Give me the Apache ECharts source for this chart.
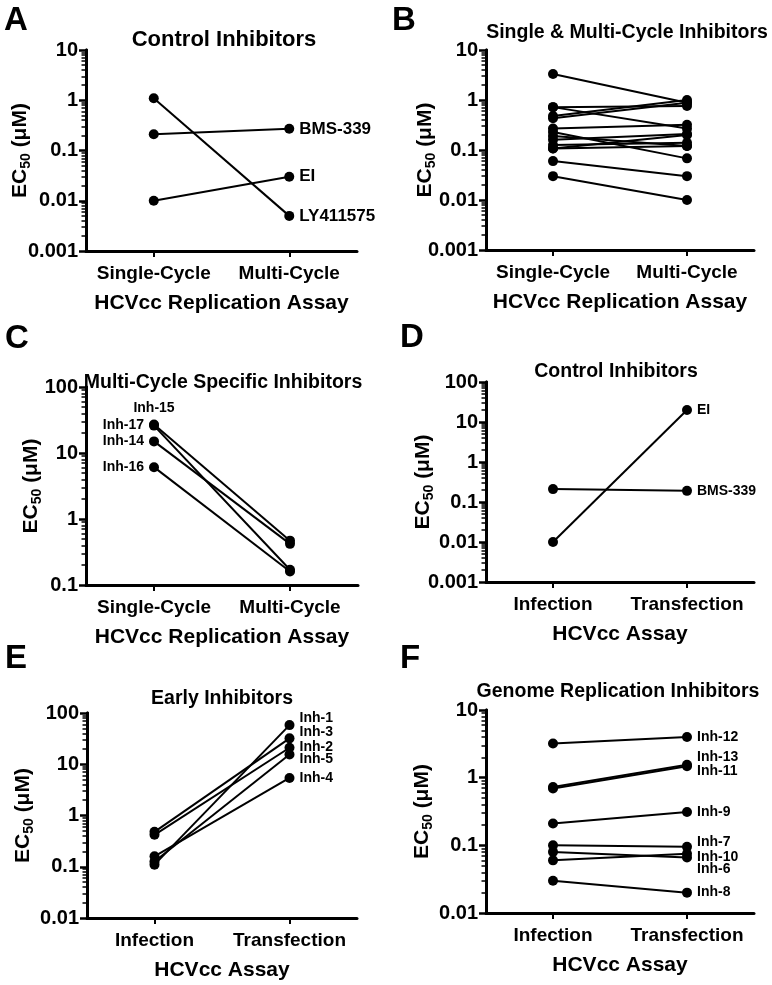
<!DOCTYPE html>
<html>
<head>
<meta charset="utf-8">
<script src="https://cdn.jsdelivr.net/npm/echarts@6/dist/echarts.min.js"></script>
<style>html,body{margin:0;padding:0;background:#fff;}#c{width:772px;height:985px;}</style>
</head>
<body>
<div id="c"></div>
<script>
// ---------- DATA ----------
const catsReplication = ['Single-Cycle', 'Multi-Cycle'];
const catsAssay = ['Infection', 'Transfection'];

// A: Control inhibitors (replication assay)
const aNames  = ['LY411575', 'BMS-339', 'EI'];
const aSingle = [1.1, 0.21, 0.01];
const aMulti  = [0.005, 0.27, 0.03];
const aTicks  = [0.001, 0.01, 0.1, 1, 10];

// B: Single & multi-cycle inhibitors
const bSingle = [3.3, 0.72, 0.72, 0.48, 0.43, 0.27, 0.23, 0.19, 0.16, 0.126, 0.107, 0.107, 0.06, 0.03];
const bMulti  = [0.88, 0.76, 0.27, 1.0, 0.88, 0.32, 0.068, 0.12, 0.21, 0.14, 0.2, 0.12, 0.03, 0.01];
const bTicks  = [0.001, 0.01, 0.1, 1, 10];

// C: Multi-cycle specific inhibitors
const cNames  = ['Inh-15', 'Inh-17', 'Inh-14', 'Inh-16'];
const cSingle = [27, 26, 15, 6.1];
const cMulti  = [0.47, 0.17, 0.42, 0.16];
const cTicks  = [0.1, 1, 10, 100];

// D: Control inhibitors (infection vs transfection)
const dNames  = ['EI', 'BMS-339'];
const dInfection    = [0.01, 0.21];
const dTransfection = [20, 0.19];
const dTicks  = [0.001, 0.01, 0.1, 1, 10, 100];

// E: Early inhibitors
const eNames  = ['Inh-1', 'Inh-3', 'Inh-2', 'Inh-5', 'Inh-4'];
const eInfection    = [0.11, 0.48, 0.42, 0.127, 0.16];
const eTransfection = [58, 32, 21, 15.5, 5.4];
const eTicks  = [0.01, 0.1, 1, 10, 100];

// F: Genome replication inhibitors
const fNames  = ['Inh-12', 'Inh-13', 'Inh-11', 'Inh-9', 'Inh-7', 'Inh-10', 'Inh-6', 'Inh-8'];
const fInfection    = [3.2, 0.73, 0.69, 0.21, 0.1, 0.06, 0.08, 0.03];
const fTransfection = [4.0, 1.55, 1.48, 0.31, 0.095, 0.075, 0.066, 0.02];
const fTicks  = [0.01, 0.1, 1, 10];

// ---------- STYLE ----------
const FONT = '"Liberation Sans", Arial, Helvetica, sans-serif';
const BLACK = '#000';

function minorsFor(ticks) {
  const out = [];
  for (let i = 0; i < ticks.length - 1; i++) {
    for (let k = 2; k <= 9; k++) out.push(+(ticks[i] * k).toPrecision(6));
  }
  return out;
}

const panels = [
  { grid: {left: 86, top: 50, width: 271, height: 201}, cats: catsReplication, ticks: aTicks, xname: 'HCVcc Replication Assay', ygap: 53,
    rows: aSingle.map((v, i) => ({a: v, b: aMulti[i], name: aNames[i], side: 'right', dy: 0, fs: 17})) },
  { grid: {left: 486, top: 50, width: 268, height: 200}, cats: catsReplication, ticks: bTicks, xname: 'HCVcc Replication Assay', ygap: 48,
    rows: bSingle.map((v, i) => ({a: v, b: bMulti[i]})) },
  { grid: {left: 86, top: 387, width: 272, height: 198}, cats: catsReplication, ticks: cTicks, xname: 'HCVcc Replication Assay', ygap: 42,
    rows: cSingle.map((v, i) => ({a: v, b: cMulti[i], name: cNames[i], side: i === 0 ? 'top' : 'left', dy: 0, fs: 14})) },
  { grid: {left: 486, top: 382, width: 268, height: 200}, cats: catsAssay, ticks: dTicks, xname: 'HCVcc Assay', ygap: 50,
    rows: dInfection.map((v, i) => ({a: v, b: dTransfection[i], name: dNames[i], side: 'right', dy: 0, fs: 14})) },
  { grid: {left: 87, top: 713, width: 270, height: 205}, cats: catsAssay, ticks: eTicks, xname: 'HCVcc Assay', ygap: 51,
    rows: eInfection.map((v, i) => ({a: v, b: eTransfection[i], name: eNames[i], side: 'right', dy: [-7, -6, -1, 5, 0][i], fs: 14})) },
  { grid: {left: 486, top: 710, width: 268, height: 203}, cats: catsAssay, ticks: fTicks, xname: 'HCVcc Assay', ygap: 51,
    rows: fInfection.map((v, i) => ({a: v, b: fTransfection[i], name: fNames[i], side: 'right', dy: [0, -8, 5, 0, -5, 3, 12, 0][i], fs: 14})) }
];

const option = {
  animation: false,
  backgroundColor: '#fff',
  textStyle: {fontFamily: FONT, color: BLACK},
  grid: [], xAxis: [], yAxis: [], series: [],
  graphic: []
};

panels.forEach((p, gi) => {
  option.grid.push(p.grid);
  option.xAxis.push({
    type: 'category', gridIndex: gi, data: p.cats, boundaryGap: true,
    axisLine: {lineStyle: {color: BLACK, width: 3}},
    axisTick: {show: true, inside: false, alignWithLabel: true, length: 6, lineStyle: {color: BLACK, width: 2}},
    axisLabel: {interval: 0, color: BLACK, fontSize: 19, fontWeight: 'bold', fontFamily: FONT, margin: 13},
    splitLine: {show: false},
    name: p.xname, nameLocation: 'middle', nameGap: 42, nameMoveOverlap: false,
    nameTextStyle: {color: BLACK, fontSize: 21, fontWeight: 'bold', fontFamily: FONT}
  });
  const lo = p.ticks[0], hi = p.ticks[p.ticks.length - 1];
  option.yAxis.push({
    type: 'log', logBase: 10, gridIndex: gi, min: lo, max: hi, position: 'left',
    axisLine: {show: true, lineStyle: {color: BLACK, width: 3}},
    axisTick: {show: true, inside: false, length: 7, customValues: p.ticks, lineStyle: {color: BLACK, width: 2.5}},
    axisLabel: {customValues: p.ticks, color: BLACK, fontSize: 20, fontWeight: 'bold', fontFamily: FONT, margin: 8,
      formatter: v => String(+Number(v).toPrecision(6))},
    splitLine: {show: false},
    name: '{a|EC}{b|50}{a| (μM)}', nameLocation: 'middle', nameRotate: 90, nameGap: p.ygap, nameMoveOverlap: false,
    nameTextStyle: {color: BLACK, fontFamily: FONT, rich: {
      a: {fontSize: 21, fontWeight: 'bold', fontFamily: FONT, color: BLACK, lineHeight: 26},
      b: {fontSize: 14, fontWeight: 'bold', fontFamily: FONT, color: BLACK, lineHeight: 14, verticalAlign: 'bottom'}
    }}
  });
  option.yAxis.push({
    type: 'log', logBase: 10, gridIndex: gi, min: lo, max: hi, position: 'left',
    axisLine: {show: true, lineStyle: {color: BLACK, width: 3}},
    axisTick: {show: true, inside: false, length: 4.5, customValues: minorsFor(p.ticks), lineStyle: {color: BLACK, width: 1.5}},
    axisLabel: {show: false},
    splitLine: {show: false}
  });
  p.rows.forEach(r => {
    const lab = r.name ? {
      show: true, formatter: r.name, position: r.side, distance: r.side === 'top' ? 4 : 5,
      offset: [0, r.dy || 0], color: BLACK, fontSize: r.fs, fontWeight: 'bold', fontFamily: FONT
    } : {show: false};
    const first = r.side === 'left' || r.side === 'top';
    option.series.push({
      type: 'line', xAxisIndex: gi, yAxisIndex: gi * 2, silent: true,
      symbol: 'circle', symbolSize: 10,
      lineStyle: {color: BLACK, width: 2}, itemStyle: {color: BLACK},
      data: [
        first ? {value: r.a, label: lab} : {value: r.a, label: {show: false}},
        first ? {value: r.b, label: {show: false}} : {value: r.b, label: lab}
      ]
    });
  });
});

// panel letters and titles
const letters = [['A', 4, 21], ['B', 392, 21], ['C', 5, 339], ['D', 400, 338], ['E', 5, 659], ['F', 400, 659]];
letters.forEach(l => option.graphic.push({type: 'text', x: l[1], y: l[2],
  style: {text: l[0], font: 'bold 33px ' + FONT, fill: BLACK, textAlign: 'left', textVerticalAlign: 'middle'}}));
const titles = [
  ['Control Inhibitors', 224, 40, 22],
  ['Single & Multi-Cycle Inhibitors', 627, 33, 19.5],
  ['Multi-Cycle Specific Inhibitors', 223, 383, 19.5],
  ['Control Inhibitors', 616, 372, 19.5],
  ['Early Inhibitors', 222, 699, 19.5],
  ['Genome Replication Inhibitors', 618, 692, 19.5]
];
titles.forEach(t => option.graphic.push({type: 'text', x: t[1], y: t[2],
  style: {text: t[0], font: 'bold ' + t[3] + 'px ' + FONT, fill: BLACK, textAlign: 'center', textVerticalAlign: 'middle'}}));

const chart = echarts.init(document.getElementById('c'), null, {renderer: 'canvas'});
chart.setOption(option);
</script>
</body>
</html>
